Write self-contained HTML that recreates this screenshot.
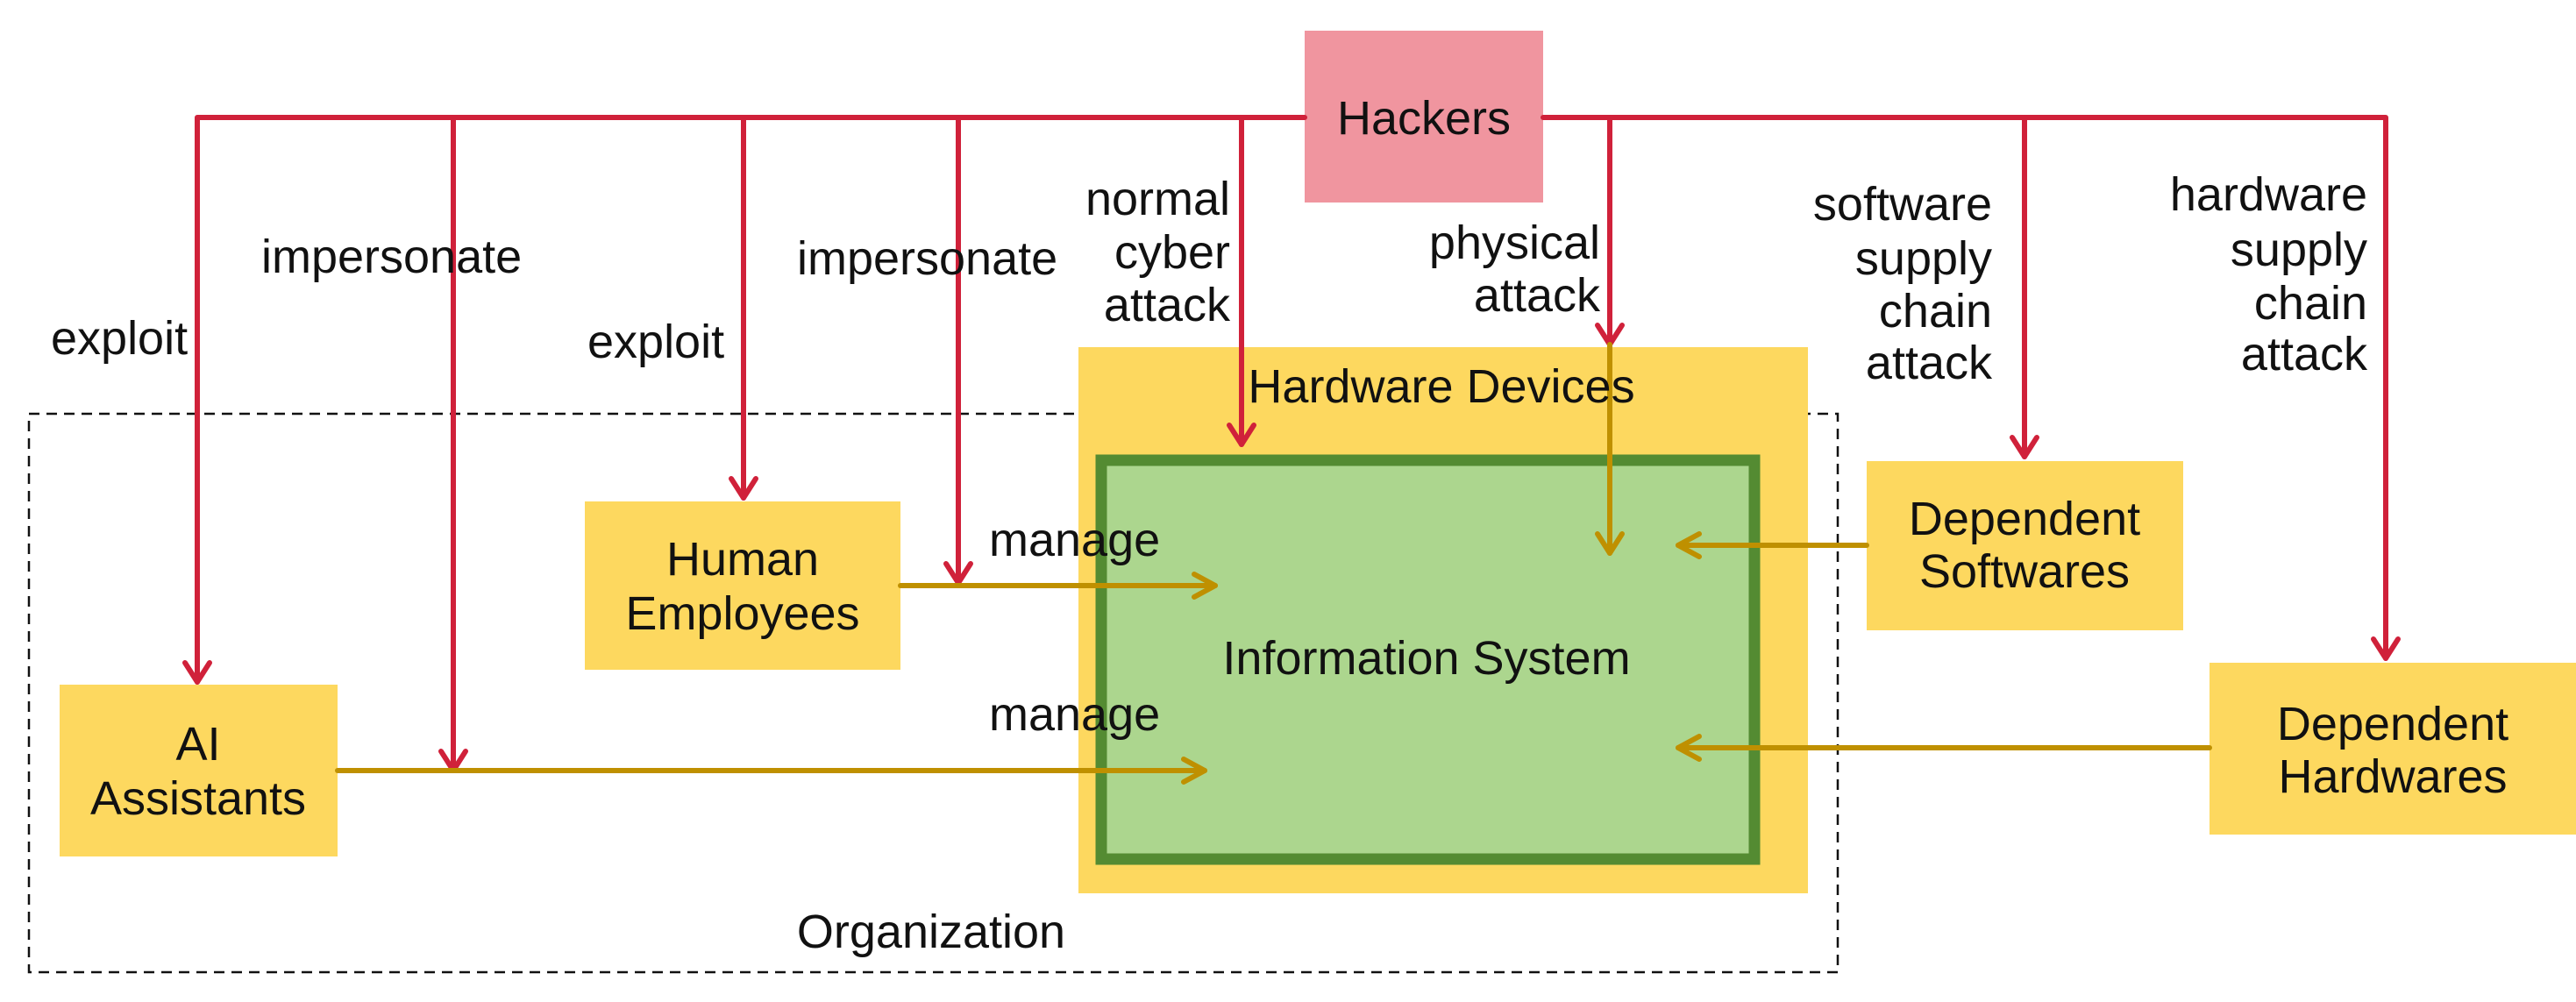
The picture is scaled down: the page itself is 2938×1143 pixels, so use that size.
<!DOCTYPE html>
<html><head><meta charset="utf-8"><style>
html,body{margin:0;padding:0;background:#fff}
svg{display:block}
text{font-family:"Liberation Sans",sans-serif;font-size:54px;fill:#111}
</style></head><body>
<svg width="2938" height="1143" viewBox="0 0 2938 1143" xmlns="http://www.w3.org/2000/svg">
<rect x="0" y="0" width="2938" height="1143" fill="#fff"/>
<rect x="33" y="472" width="2063" height="637" fill="none" stroke="#111" stroke-width="2.5" stroke-dasharray="12,8"/>
<rect x="1230" y="396" width="832" height="623" fill="#fdd85f"/>
<rect x="1256" y="525" width="745" height="455" fill="#acd68e" stroke="#548b32" stroke-width="13"/>
<rect x="1488" y="35" width="272" height="196" fill="#f0959f"/>
<rect x="68" y="781" width="317" height="196" fill="#fdd85f"/>
<rect x="667" y="572" width="360" height="192" fill="#fdd85f"/>
<rect x="2129" y="526" width="361" height="193" fill="#fdd85f"/>
<rect x="2520" y="756" width="418" height="196" fill="#fdd85f"/>

<g fill="none" stroke-linecap="round" stroke-linejoin="round">
<g stroke="#d0213a" stroke-width="6">
<polyline points="225,778 225,134 1488,134"/>
<polyline points="1760,134 2721,134 2721,751"/>
<line x1="517" y1="134" x2="517" y2="879"/>
<line x1="848" y1="134" x2="848" y2="568"/>
<line x1="1093" y1="134" x2="1093" y2="665"/>
<line x1="1416" y1="134" x2="1416" y2="507"/>
<line x1="1836" y1="134" x2="1836" y2="393"/>
<line x1="2309" y1="134" x2="2309" y2="521"/>
<polyline points="211,756 225,778 239,756"/>
<polyline points="503,857 517,879 531,857"/>
<polyline points="834,546 848,568 862,546"/>
<polyline points="1079,643 1093,665 1107,643"/>
<polyline points="1402,485 1416,507 1430,485"/>
<polyline points="1822,371 1836,393 1850,371"/>
<polyline points="2295,499 2309,521 2323,499"/>
<polyline points="2707,729 2721,751 2735,729"/>
</g>
<g stroke="#bf9000" stroke-width="6">
<line x1="1836" y1="393" x2="1836" y2="631"/>
<polyline points="1822,609 1836,631 1850,609"/>
<line x1="1027" y1="668" x2="1386" y2="668"/>
<polyline points="1362,655 1386,668 1362,681"/>
<line x1="385" y1="879" x2="1374" y2="879"/>
<polyline points="1350,866 1374,879 1350,892"/>
<line x1="2129" y1="622" x2="1914" y2="622"/>
<polyline points="1938,609 1914,622 1938,635"/>
<line x1="2520" y1="853" x2="1914" y2="853"/>
<polyline points="1938,840 1914,853 1938,866"/>
</g>
</g>

<g text-anchor="middle" dominant-baseline="central">
<text x="1624" y="135">Hackers</text>
<text x="226" y="849">AI</text>
<text x="226" y="911">Assistants</text>
<text x="847" y="638">Human</text>
<text x="847" y="700">Employees</text>
<text x="2309" y="592">Dependent</text>
<text x="2309" y="652">Softwares</text>
<text x="2729" y="826">Dependent</text>
<text x="2729" y="886">Hardwares</text>
<text x="1627" y="751">Information System</text>
<text x="1644" y="441">Hardware Devices</text>
<text x="1062" y="1063">Organization</text>
</g>
<g dominant-baseline="central">
<text x="58" y="386">exploit</text>
<text x="298" y="293">impersonate</text>
<text x="670" y="390">exploit</text>
<text x="909" y="295">impersonate</text>
<text x="1128" y="616">manage</text>
<text x="1128" y="815">manage</text>
</g>
<g text-anchor="end" dominant-baseline="central">
<text x="1403" y="227">normal</text>
<text x="1403" y="288">cyber</text>
<text x="1403" y="348">attack</text>
<text x="1825" y="277">physical</text>
<text x="1825" y="337">attack</text>
<text x="2272" y="233">software</text>
<text x="2272" y="295">supply</text>
<text x="2272" y="355">chain</text>
<text x="2272" y="414">attack</text>
<text x="2700" y="222">hardware</text>
<text x="2700" y="285">supply</text>
<text x="2700" y="346">chain</text>
<text x="2700" y="404">attack</text>
</g>
</svg>
</body></html>
